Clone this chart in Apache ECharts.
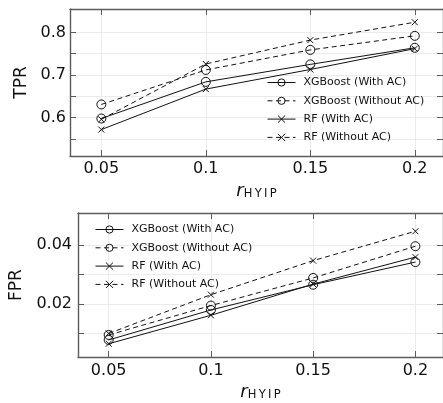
<!DOCTYPE html>
<html>
<head>
<meta charset="utf-8">
<script src="https://cdn.jsdelivr.net/npm/echarts@6/dist/echarts.min.js"></script>
<style>
  html, body { margin: 0; padding: 0; background: #fff; }
  #chart { width: 443px; height: 403px; }
</style>
</head>
<body>
<div id="chart"></div>
<script>
// r_HYIP values on the x axis
const rValues = [0.05, 0.1, 0.15, 0.2]
const xTicks = [0.05, 0.1, 0.15, 0.2]

// TPR (top panel)
const tprXgbAc = [0.598, 0.684, 0.725, 0.764]
const tprXgbNoAc = [0.631, 0.712, 0.759, 0.792]
const tprRfAc = [0.572, 0.667, 0.713, 0.762]
const tprRfNoAc = [0.596, 0.726, 0.782, 0.824]
const tprTicks = [0.55, 0.6, 0.65, 0.7, 0.75, 0.8]
const tprLabels = [0.6, 0.7, 0.8]

// FPR (bottom panel)
const fprXgbAc = [0.0078, 0.018, 0.0266, 0.0343]
const fprXgbNoAc = [0.0095, 0.0195, 0.0289, 0.0397]
const fprRfAc = [0.0065, 0.0162, 0.0268, 0.036]
const fprRfNoAc = [0.01, 0.0232, 0.0348, 0.0448]
const fprTicks = [0.01, 0.02, 0.03, 0.04]
const fprLabels = [0.02, 0.04]

const seriesNames = ['XGBoost (With AC)', 'XGBoost (Without AC)', 'RF (With AC)', 'RF (Without AC)']

const ink = '#111'
const spine = '#5c5c5c'
const font = 'DejaVu Sans'
const crossPath = 'path://M0,0L10,10M10,0L0,10'

function pairs(values) {
  return rValues.map((r, i) => [r, values[i]])
}

function line(name, values, idx, dashed, cross) {
  return {
    type: 'line',
    name: name,
    xAxisIndex: idx,
    yAxisIndex: idx,
    data: pairs(values),
    symbol: cross ? crossPath : 'circle',
    symbolSize: cross ? 6 : 9,
    lineStyle: { color: ink, width: 1, type: dashed ? [5, 3.5] : 'solid' },
    itemStyle: { color: 'transparent', borderColor: ink, borderWidth: 1 },
    emphasis: { disabled: true },
    z: 3,
  }
}

function mainX(gridIndex, labelMargin) {
  return {
    type: 'value',
    gridIndex: gridIndex,
    min: 0.035,
    max: 0.2135,
    name: '{r|r}{s|H\u2009Y\u2009I\u2009P}',
    nameLocation: 'middle',
    nameGap: 26,
    nameTextStyle: {
      rich: {
        r: { fontFamily: font, fontStyle: 'italic', fontSize: 18, color: ink, verticalAlign: 'bottom' },
        s: { fontFamily: font, fontSize: 11.5, color: ink, verticalAlign: 'bottom' },
      },
    },
    axisLine: { show: true, lineStyle: { color: spine, width: 1.4 } },
    axisTick: { show: true, inside: true, length: 6, customValues: xTicks, lineStyle: { color: spine } },
    axisLabel: { customValues: xTicks, margin: labelMargin, fontFamily: font, fontSize: 16, color: ink },
    splitLine: { show: true, lineStyle: { color: '#ebebeb', width: 1 } },
  }
}

function topX(gridIndex) {
  return {
    type: 'value',
    gridIndex: gridIndex,
    position: 'top',
    min: 0.035,
    max: 0.2135,
    axisLine: { show: true, lineStyle: { color: spine, width: 1.4 } },
    axisTick: { show: true, inside: true, length: 6, customValues: xTicks, lineStyle: { color: spine } },
    axisLabel: { show: false },
    splitLine: { show: false },
  }
}

function mainY(gridIndex, min, max, ticks, labels, title, labelMargin) {
  return {
    type: 'value',
    gridIndex: gridIndex,
    min: min,
    max: max,
    name: title,
    nameLocation: 'middle',
    nameGap: 40,
    nameTextStyle: { fontFamily: font, fontSize: 17, color: ink },
    axisLine: { show: true, lineStyle: { color: spine, width: 1.4 } },
    axisTick: { show: true, inside: true, length: 6, customValues: ticks, lineStyle: { color: spine } },
    axisLabel: { customValues: labels, margin: labelMargin, fontFamily: font, fontSize: 16, color: ink },
    splitLine: { show: true, lineStyle: { color: '#ebebeb', width: 1 } },
  }
}

function rightY(gridIndex, min, max, ticks) {
  return {
    type: 'value',
    gridIndex: gridIndex,
    position: 'right',
    min: min,
    max: max,
    axisLine: { show: true, lineStyle: { color: spine, width: 1.4 } },
    axisTick: { show: true, inside: true, length: 6, customValues: ticks, lineStyle: { color: spine } },
    axisLabel: { show: false },
    splitLine: { show: false },
  }
}

function legend(left, top) {
  return {
    orient: 'vertical',
    left: left,
    top: top,
    padding: 0,
    itemWidth: 28,
    itemHeight: 9,
    itemGap: 7.3,
    data: seriesNames,
    selectedMode: false,
    lineStyle: { width: 1 },
    itemStyle: { borderWidth: 1 },
    textStyle: { fontFamily: font, fontSize: 11, color: ink, padding: [0, 0, 0, 3] },
  }
}

const chart = echarts.init(document.getElementById('chart'))
chart.setOption({
  animation: false,
  grid: [
    { left: 70, top: 9, right: -2, height: 147 },
    { left: 78, top: 213, right: -3, height: 144 },
  ],
  legend: [legend(267, 77), legend(95, 224)],
  xAxis: [mainX(0, 5), mainX(1, 6), topX(0), topX(1)],
  yAxis: [
    mainY(0, 0.51, 0.855, tprTicks, tprLabels, 'TPR', 4),
    mainY(1, 0.002, 0.051, fprTicks, fprLabels, 'FPR', 6),
    rightY(0, 0.51, 0.855, tprTicks),
    rightY(1, 0.002, 0.051, fprTicks),
  ],
  series: [
    line(seriesNames[0], tprXgbAc, 0, false, false),
    line(seriesNames[1], tprXgbNoAc, 0, true, false),
    line(seriesNames[2], tprRfAc, 0, false, true),
    line(seriesNames[3], tprRfNoAc, 0, true, true),
    line(seriesNames[0], fprXgbAc, 1, false, false),
    line(seriesNames[1], fprXgbNoAc, 1, true, false),
    line(seriesNames[2], fprRfAc, 1, false, true),
    line(seriesNames[3], fprRfNoAc, 1, true, true),
  ],
})
</script>
</body>
</html>
